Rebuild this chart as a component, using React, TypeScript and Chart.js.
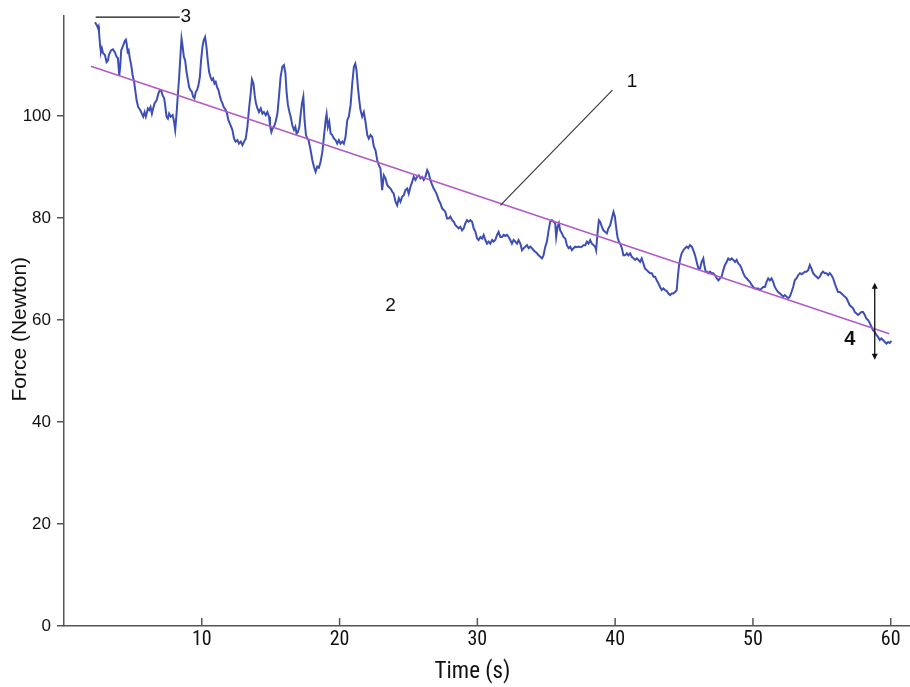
import React, { useEffect, useRef } from "react";
import { Chart, registerables } from "chart.js";

Chart.register(...registerables);

// ---- Data ----
const timeS: number[] = [
  2.25, 2.39, 2.46, 2.51, 2.54, 2.63, 2.68, 2.75, 2.83, 2.97, 3.09, 3.19, 3.26, 3.41, 3.55, 3.7, 3.82, 3.91, 4.01, 4.08,
  4.15, 4.3, 4.42, 4.49, 4.54, 4.62, 4.69, 4.78, 4.88, 4.98, 5.09, 5.17, 5.27, 5.38, 5.53, 5.65, 5.75, 5.85, 5.94, 6.09,
  6.18, 6.28, 6.38, 6.47, 6.57, 6.72, 6.86, 6.96, 7.05, 7.15, 7.27, 7.34, 7.44, 7.54, 7.63, 7.75, 7.88, 7.97, 8.07, 8.17,
  8.26, 8.36, 8.46, 8.53, 8.6, 8.7, 8.79, 8.89, 8.99, 9.08, 9.18, 9.28, 9.37, 9.47, 9.57, 9.66, 9.76, 9.86, 9.95, 10.05,
  10.14, 10.24, 10.34, 10.43, 10.53, 10.63, 10.72, 10.82, 10.92, 11.01, 11.11, 11.21, 11.3, 11.4, 11.5, 11.59, 11.74, 11.83, 11.93, 12.03,
  12.22, 12.34, 12.46, 12.59, 12.7, 12.83, 12.95, 13.07, 13.19, 13.31, 13.43, 13.55, 13.64, 13.75, 13.84, 13.93, 14.04, 14.15, 14.28, 14.4,
  14.51, 14.64, 14.76, 14.88, 14.95, 15.05, 15.14, 15.24, 15.36, 15.49, 15.6, 15.72, 15.85, 15.96, 16.07, 16.16, 16.25, 16.36, 16.45, 16.57,
  16.69, 16.79, 16.88, 16.98, 17.08, 17.17, 17.27, 17.37, 17.46, 17.56, 17.66, 17.75, 17.9, 18.02, 18.14, 18.26, 18.38, 18.5, 18.62, 18.75,
  18.86, 18.99, 19.06, 19.15, 19.25, 19.35, 19.47, 19.59, 19.71, 19.83, 19.95, 20.07, 20.2, 20.31, 20.43, 20.56, 20.67, 20.8, 20.92, 21.04,
  21.14, 21.23, 21.33, 21.43, 21.52, 21.64, 21.76, 21.88, 22.01, 22.12, 22.25, 22.37, 22.49, 22.61, 22.73, 22.85, 22.97, 23.09, 23.21, 23.33,
  23.46, 23.57, 23.7, 23.82, 23.93, 24.06, 24.18, 24.3, 24.42, 24.54, 24.66, 24.78, 24.91, 25.02, 25.14, 25.27, 25.38, 25.51, 25.63, 25.75,
  25.87, 25.99, 26.11, 26.23, 26.36, 26.47, 26.59, 26.72, 26.83, 26.96, 27.08, 27.2, 27.32, 27.44, 27.56, 27.68, 27.8, 27.92, 28.04, 28.17,
  28.28, 28.41, 28.53, 28.64, 28.77, 28.89, 29.01, 29.13, 29.25, 29.37, 29.49, 29.62, 29.73, 29.86, 29.98, 30.09, 30.22, 30.34, 30.46, 30.58,
  30.7, 30.82, 30.94, 31.07, 31.18, 31.3, 31.43, 31.54, 31.67, 31.79, 31.91, 32.03, 32.15, 32.27, 32.39, 32.51, 32.63, 32.75, 32.88, 32.99,
  33.12, 33.24, 33.36, 33.48, 33.6, 33.72, 33.84, 33.96, 34.08, 34.2, 34.33, 34.44, 34.57, 34.69, 34.8, 34.93, 35.05, 35.17, 35.29, 35.41,
  35.53, 35.65, 35.72, 35.82, 35.92, 36.01, 36.14, 36.25, 36.38, 36.5, 36.62, 36.74, 36.86, 36.98, 37.1, 37.22, 37.34, 37.46, 37.59, 37.7,
  37.83, 37.95, 38.07, 38.19, 38.31, 38.43, 38.55, 38.62, 38.72, 38.82, 38.91, 39.04, 39.15, 39.28, 39.4, 39.51, 39.64, 39.76, 39.88, 39.98,
  40.07, 40.17, 40.27, 40.36, 40.49, 40.6, 40.72, 40.85, 40.96, 41.09, 41.21, 41.33, 41.45, 41.57, 41.69, 41.81, 41.93, 42.05, 42.17, 42.3,
  42.41, 42.54, 42.66, 42.78, 42.9, 43.02, 43.14, 43.26, 43.38, 43.5, 43.62, 43.75, 43.86, 43.99, 44.11, 44.22, 44.35, 44.47, 44.54, 44.64,
  44.73, 44.83, 44.95, 45.07, 45.2, 45.31, 45.43, 45.56, 45.67, 45.8, 45.92, 46.04, 46.16, 46.28, 46.4, 46.47, 46.57, 46.67, 46.76, 46.88,
  47.01, 47.12, 47.25, 47.37, 47.49, 47.61, 47.73, 47.85, 47.97, 48.09, 48.21, 48.33, 48.46, 48.57, 48.7, 48.82, 48.93, 49.06, 49.18, 49.3,
  49.42, 49.54, 49.66, 49.78, 49.91, 50.02, 50.14, 50.27, 50.38, 50.51, 50.63, 50.75, 50.87, 50.99, 51.11, 51.23, 51.35, 51.47, 51.59, 51.72,
  51.83, 51.96, 52.08, 52.2, 52.32, 52.44, 52.56, 52.68, 52.8, 52.92, 53.04, 53.17, 53.28, 53.41, 53.53, 53.64, 53.77, 53.89, 54.01, 54.13,
  54.25, 54.37, 54.49, 54.62, 54.73, 54.86, 54.98, 55.09, 55.22, 55.34, 55.46, 55.58, 55.7, 55.82, 55.94, 56.07, 56.18, 56.3, 56.43, 56.54,
  56.67, 56.79, 56.91, 57.03, 57.15, 57.27, 57.39, 57.51, 57.63, 57.75, 57.88, 57.99, 58.12, 58.24, 58.36, 58.48, 58.6, 58.72, 58.84, 58.96,
  59.08, 59.2, 59.32, 59.44, 59.57, 59.69, 59.81, 59.93, 60.05,
];

const forceN: number[] = [
  118.4, 117.8, 117.3, 117.6, 116.5, 113.6, 112.6, 113.3, 112.4, 112.0, 110.6, 110.9, 112.0, 112.9, 113.1, 112.5, 111.6, 111.4, 108.0, 109.7,
  112.9, 113.9, 114.8, 115.0, 114.3, 112.6, 112.9, 111.3, 110.0, 108.0, 106.7, 105.1, 103.1, 101.8, 101.2, 100.5, 99.9, 100.8, 99.9, 101.5,
  101.2, 101.8, 100.5, 101.5, 102.5, 103.1, 104.5, 105.1, 105.1, 104.1, 103.5, 102.2, 99.9, 99.5, 100.5, 99.9, 100.2, 99.2, 97.3, 100.5,
  104.1, 107.7, 112.3, 115.2, 113.9, 111.6, 111.0, 108.7, 107.1, 105.7, 105.1, 104.8, 103.8, 103.5, 104.8, 105.1, 106.1, 107.7, 111.0, 113.6,
  114.9, 115.5, 113.6, 111.0, 108.7, 107.7, 107.1, 107.4, 106.4, 106.7, 105.7, 105.1, 104.1, 103.1, 102.5, 101.8, 101.2, 100.5, 99.2, 98.6,
  97.3, 95.6, 95.0, 95.3, 94.6, 95.0, 94.3, 95.0, 95.6, 97.9, 101.5, 104.5, 107.2, 106.4, 104.1, 102.5, 101.5, 100.8, 101.5, 100.5,
  100.8, 100.2, 100.8, 99.9, 98.2, 96.9, 97.6, 97.9, 98.9, 100.5, 103.8, 107.7, 109.7, 110.0, 108.4, 104.5, 102.2, 100.8, 99.9, 98.2,
  97.3, 97.9, 96.6, 96.9, 97.9, 100.2, 102.5, 103.8, 99.2, 96.3, 95.6, 95.3, 93.3, 91.4, 90.1, 89.1, 90.1, 89.9, 91.0, 93.0,
  95.9, 99.2, 100.4, 97.9, 98.9, 96.6, 96.3, 95.6, 95.3, 94.6, 95.3, 94.6, 95.0, 94.6, 95.9, 99.2, 99.9, 102.2, 106.4, 109.7,
  110.3, 109.0, 105.7, 103.1, 101.2, 99.9, 100.8, 98.9, 96.3, 95.6, 96.3, 95.9, 94.0, 93.3, 91.4, 90.4, 89.7, 85.5, 88.4, 87.8,
  86.5, 86.1, 85.8, 85.2, 84.8, 83.2, 82.5, 83.9, 83.2, 84.2, 84.5, 85.5, 85.8, 84.8, 86.1, 87.1, 88.1, 87.5, 88.1, 88.4,
  87.8, 88.1, 87.5, 88.1, 89.4, 88.8, 87.5, 86.5, 85.8, 85.2, 84.5, 83.5, 82.9, 81.9, 81.6, 81.2, 79.9, 79.9, 80.3, 79.6,
  79.3, 78.6, 78.3, 78.0, 78.3, 77.6, 78.0, 79.0, 79.6, 79.3, 79.6, 79.3, 78.0, 77.3, 76.0, 75.7, 76.3, 76.0, 76.7, 75.7,
  75.0, 75.4, 75.0, 75.7, 75.4, 75.7, 76.7, 77.3, 76.3, 76.3, 76.7, 76.5, 76.7, 76.3, 75.7, 75.0, 75.7, 75.4, 75.0, 75.7,
  75.0, 73.7, 74.1, 74.4, 74.7, 74.1, 74.4, 74.1, 73.7, 73.4, 73.1, 72.7, 72.4, 72.1, 72.7, 74.4, 75.4, 77.6, 79.3, 79.6,
  79.3, 79.0, 76.3, 78.3, 79.0, 77.6, 77.0, 76.3, 76.0, 74.7, 74.1, 74.4, 73.7, 74.1, 74.4, 74.3, 74.4, 74.3, 74.4, 74.7,
  74.7, 75.4, 75.0, 75.7, 75.0, 74.7, 74.4, 73.7, 77.0, 79.6, 79.3, 78.3, 77.6, 77.3, 77.0, 78.0, 78.6, 79.9, 81.2, 80.3,
  78.3, 76.3, 75.4, 75.0, 74.1, 72.7, 72.7, 73.1, 72.7, 73.1, 72.4, 72.1, 71.8, 72.1, 71.8, 71.4, 72.1, 71.1, 70.1, 69.8,
  69.5, 69.2, 69.2, 68.5, 68.5, 67.8, 67.2, 66.5, 65.9, 66.2, 65.9, 65.7, 65.2, 64.9, 65.2, 65.2, 65.5, 65.9, 68.2, 70.8,
  72.1, 73.1, 73.7, 74.1, 74.4, 74.1, 74.7, 74.4, 73.7, 72.7, 71.4, 70.1, 70.1, 71.4, 72.1, 70.8, 69.5, 69.5, 69.2, 69.5,
  69.2, 69.2, 68.8, 68.2, 67.8, 68.2, 68.5, 69.8, 70.8, 71.4, 72.1, 71.8, 72.1, 71.8, 71.4, 71.8, 71.1, 70.8, 70.1, 69.2,
  68.5, 68.2, 67.8, 67.5, 66.9, 66.5, 66.2, 66.2, 66.2, 65.9, 66.2, 66.5, 66.5, 67.5, 68.2, 67.8, 68.2, 67.5, 66.5, 65.9,
  65.5, 65.2, 64.9, 64.6, 64.9, 64.6, 64.3, 64.6, 65.5, 66.5, 67.8, 68.2, 68.8, 69.2, 69.0, 69.2, 69.5, 69.5, 69.8, 70.8,
  70.1, 69.2, 68.8, 68.5, 68.2, 68.5, 69.2, 69.5, 69.2, 69.2, 68.8, 69.2, 68.8, 68.2, 67.2, 66.2, 65.5, 65.5, 65.2, 64.9,
  64.6, 64.3, 63.6, 62.9, 62.6, 62.3, 61.6, 61.3, 61.0, 61.3, 61.6, 61.6, 61.0, 60.3, 60.0, 59.4, 58.7, 58.0, 57.7, 57.1,
  56.7, 56.1, 56.4, 56.1, 55.7, 55.4, 55.7, 55.5, 55.9,
];

// Linear trend line (label 1)
const trendTime: number[] = [1.96, 59.9];
const trendForce: number[] = [109.8, 57.3];

// Axes
const xTickValues: number[] = [10, 20, 30, 40, 50, 60];
const yTickValues: number[] = [0, 20, 40, 60, 80, 100];
const xRange: number[] = [0, 61.4];
const yRange: number[] = [0, 119.6];
const xTitle = "Time (s)";
const yTitle = "Force (Newton)";

// Annotation labels and their anchor positions in data units
const noteLabels: string[] = ["1", "2", "3", "4"];
const noteTime: number[] = [41.23, 23.7, 8.84, 57.03];
const noteForce: number[] = [106.7, 62.9, 119.4, 56.1];
const leader1Time: number[] = [39.8, 31.67];
const leader1Force: number[] = [105.1, 82.5];
const leader3Time: number[] = [2.3, 8.4];
const leader3Force: number[] = [119.4, 119.4];
const arrow4Time = 58.84;
const arrow4Force: number[] = [67.3, 52.2];

const AXIS_COLOR = "#555555";
const SANS = '"Liberation Sans", Arial, sans-serif';
const NARROW = '"Roboto Condensed", "Liberation Sans", sans-serif';

export default function App() {
  const canvasRef = useRef<HTMLCanvasElement | null>(null);

  useEffect(() => {
    const canvas = canvasRef.current;
    if (!canvas) return;

    const decorations = {
      id: "decorations",
      afterDraw(chart: any) {
        const { ctx, chartArea } = chart;
        const xs = chart.scales.x;
        const ys = chart.scales.y;
        const px = (t: number) => xs.getPixelForValue(t);
        const py = (v: number) => ys.getPixelForValue(v);
        ctx.save();

        // inward x-axis tick marks
        ctx.strokeStyle = AXIS_COLOR;
        ctx.lineWidth = 1.5;
        xTickValues.forEach((t) => {
          const X = px(t);
          ctx.beginPath();
          ctx.moveTo(X, chartArea.bottom);
          ctx.lineTo(X, chartArea.bottom - 8);
          ctx.stroke();
        });

        // axis titles
        ctx.fillStyle = "#111111";
        ctx.textAlign = "center";
        ctx.textBaseline = "middle";
        ctx.font = `23px ${NARROW}`;
        ctx.fillText(xTitle, px(29.64), chartArea.bottom + 46);
        ctx.save();
        ctx.translate(20, py(58.2));
        ctx.rotate(-Math.PI / 2);
        ctx.font = `21px ${SANS}`;
        ctx.fillText(yTitle, 0, 0);
        ctx.restore();

        // leader lines
        ctx.strokeStyle = "#333333";
        ctx.lineWidth = 1.1;
        ctx.beginPath();
        ctx.moveTo(px(leader1Time[0]), py(leader1Force[0]));
        ctx.lineTo(px(leader1Time[1]), py(leader1Force[1]));
        ctx.stroke();
        ctx.strokeStyle = "#111111";
        ctx.lineWidth = 1.3;
        ctx.beginPath();
        ctx.moveTo(px(leader3Time[0]), py(leader3Force[0]));
        ctx.lineTo(px(leader3Time[1]), py(leader3Force[1]));
        ctx.stroke();

        // double arrow for label 4
        const ax = px(arrow4Time);
        const aTop = py(arrow4Force[0]);
        const aBot = py(arrow4Force[1]);
        ctx.strokeStyle = "#111111";
        ctx.fillStyle = "#111111";
        ctx.lineWidth = 1.3;
        ctx.beginPath();
        ctx.moveTo(ax, aTop + 3);
        ctx.lineTo(ax, aBot - 3);
        ctx.stroke();
        ctx.beginPath();
        ctx.moveTo(ax, aTop);
        ctx.lineTo(ax - 3, aTop + 6);
        ctx.lineTo(ax + 3, aTop + 6);
        ctx.closePath();
        ctx.fill();
        ctx.beginPath();
        ctx.moveTo(ax, aBot);
        ctx.lineTo(ax - 3, aBot - 6);
        ctx.lineTo(ax + 3, aBot - 6);
        ctx.closePath();
        ctx.fill();

        // labels
        ctx.fillStyle = "#111111";
        noteLabels.forEach((txt, i) => {
          ctx.font = i === 3 ? `bold 20px ${SANS}` : `19px ${SANS}`;
          ctx.fillText(txt, px(noteTime[i]), py(noteForce[i]));
        });

        ctx.restore();
      },
    };

    const chart = new Chart(canvas, {
      type: "scatter",
      data: {
        datasets: [
          {
            label: "trend",
            data: trendTime.map((t, i) => ({ x: t, y: trendForce[i] })),
            showLine: true,
            borderColor: "#b25ac6",
            backgroundColor: "#b25ac6",
            borderWidth: 1.6,
            pointRadius: 0,
          },
          {
            label: "force",
            data: timeS.map((t, i) => ({ x: t, y: forceN[i] })),
            showLine: true,
            borderColor: "#3d4fb4",
            backgroundColor: "#3d4fb4",
            borderWidth: 2,
            pointRadius: 0,
          },
        ],
      },
      options: {
        animation: false,
        responsive: true,
        maintainAspectRatio: false,
        layout: { padding: { top: 16, left: 0, right: 0, bottom: 0 } },
        plugins: { legend: { display: false }, tooltip: { enabled: false } },
        scales: {
          x: {
            type: "linear",
            min: xRange[0],
            max: xRange[1],
            afterFit: (s: any) => {
              s.height = 61;
            },
            afterBuildTicks: (s: any) => {
              s.ticks = xTickValues.map((v) => ({ value: v }));
            },
            grid: { display: false, drawTicks: false },
            border: { display: true, color: AXIS_COLOR, width: 1.5 },
            ticks: {
              padding: 2,
              maxRotation: 0,
              color: "#111111",
              font: { family: NARROW, size: 20 },
            },
          },
          y: {
            type: "linear",
            min: yRange[0],
            max: yRange[1],
            afterFit: (s: any) => {
              s.width = 64;
            },
            afterBuildTicks: (s: any) => {
              s.ticks = yTickValues.map((v) => ({ value: v }));
            },
            grid: {
              display: true,
              drawOnChartArea: false,
              drawTicks: true,
              tickLength: 7,
              color: AXIS_COLOR,
              lineWidth: 1.5,
            },
            border: { display: true, color: AXIS_COLOR, width: 1.5 },
            ticks: {
              padding: 6,
              color: "#111111",
              font: { family: SANS, size: 17 },
            },
          },
        },
      },
      plugins: [decorations],
    });

    return () => chart.destroy();
  }, []);

  return (
    <div style={{ position: "fixed", left: 0, top: 0, width: 910, height: 687, background: "#ffffff" }}>
      <canvas ref={canvasRef} />
    </div>
  );
}
